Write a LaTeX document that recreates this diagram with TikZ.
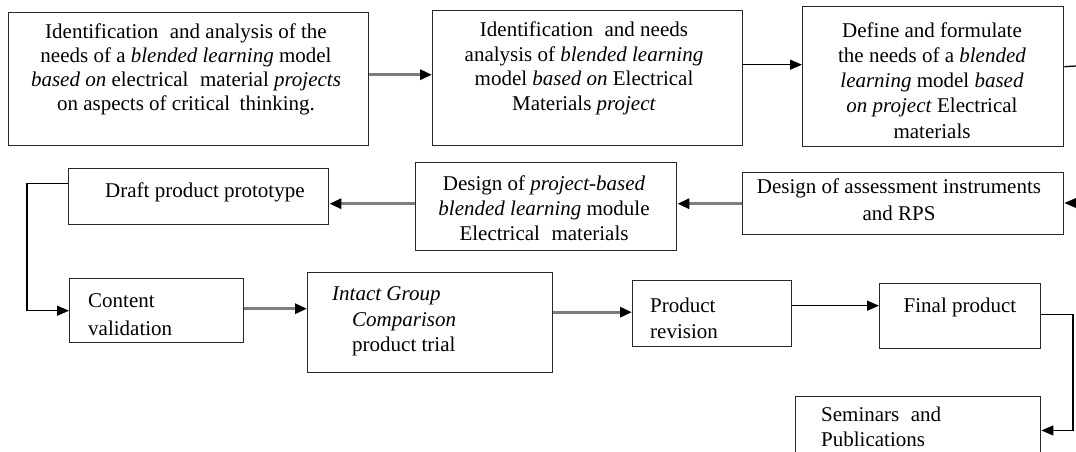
\documentclass[tikz,border=0pt]{standalone}
\usepackage{fontspec}
\setmainfont{Liberation Serif}
\usetikzlibrary{arrows.meta,calc}
\definecolor{shaft}{RGB}{125,125,125}
\definecolor{edge}{RGB}{40,40,40}
\tikzset{
  stepbox/.style={draw=edge, line width=1.4pt, inner sep=0pt},
  txt/.style={inner sep=0pt, font=\fontsize{21}{25}\selectfont},
  garrow/.style={draw=shaft, line width=3pt, -{Triangle[length=12pt,width=10pt,fill=black,color=black]}},
  barrow/.style={draw=black, line width=1.3pt, -{Triangle[length=12pt,width=10pt]}},
  bline/.style={draw=black, line width=1.3pt},
}
\newcommand{\boxat}[5]{\node[stepbox, anchor=north west, minimum width=#4-#2, minimum height=#5-#3] (#1) at (#2,#3) {};}
\begin{document}
\begin{tikzpicture}[x=1pt,y=-1pt]
\useasboundingbox (0,0) rectangle (1076,452);

% boxes
\boxat{b1}{8}{12}{368}{145}
\boxat{b2}{432}{10}{742}{145}
\boxat{b3}{802}{6}{1063}{146}
\boxat{b4}{742}{172}{1063}{234}
\boxat{b5}{415}{162}{676}{250}
\boxat{b6}{68}{168}{328}{224}
\boxat{b7}{69}{278}{243}{342}
\boxat{b8}{307}{272}{552}{372}
\boxat{b9}{632}{280}{791}{346}
\boxat{b10}{879}{283}{1040}{348}
\boxat{b11}{795}{396}{1040}{452.5}

% texts
\node[txt, align=center, font=\fontsize{21}{24}\selectfont] (t1) at (186,69.5)
  {Identification\hspace{0.3em} and analysis of the\\ needs of a \textit{blended learning} model\\ \textit{based on} electrical\hspace{0.3em} material \textit{projects}\\ on aspects of critical\hspace{0.2em} thinking.};
\node[txt, align=center, font=\fontsize{21}{24.5}\selectfont] (t2) at (584,68.5)
  {Identification\hspace{0.3em} and needs\\ analysis of \textit{blended learning}\\ model \textit{based on} Electrical\\ Materials \textit{project}};
\node[txt, align=center, font=\fontsize{21}{25.25}\selectfont] (t3) at (932,80.4)
  {Define and formulate\\ the needs of a \textit{blended}\\ \textit{learning} model \textit{based}\\ \textit{on project} Electrical\\ materials};
\node[txt, align=center, font=\fontsize{21}{26.5}\selectfont] (t4) at (899,199.6)
  {Design of assessment instruments\\ and RPS};
\node[txt, align=center, font=\fontsize{21}{25}\selectfont] (t5) at (544,207.9)
  {Design of \textit{project-based}\\ \textit{blended learning} module\\ Electrical\hspace{0.3em} materials};
\node[txt, anchor=base west] (t6) at (105,197) {Draft product prototype};
\node[txt, align=left, anchor=west, font=\fontsize{21}{28}\selectfont] (t7) at (88,315) {Content\\ validation};
\node[txt, align=left, anchor=west, font=\fontsize{21}{25.5}\selectfont] (t8) at (332,321.6)
  {\textit{Intact Group}\\ \hspace*{20pt}\textit{Comparison}\\ \hspace*{20pt}product trial};
\node[txt, align=left, anchor=west, font=\fontsize{21}{26}\selectfont] (t9) at (650,317.9) {Product\\ revision};
\node[txt, anchor=base] (t10) at (960,312) {Final product};
\node[txt, align=left, anchor=west, font=\fontsize{21}{25}\selectfont] (t11) at (821,427) {Seminars\hspace{0.3em} and\\ Publications};

% helper coordinates
\coordinate (rt1) at (1076,66);
\coordinate (rt2) at (1076,203);
\coordinate (lft) at (27,250);
\coordinate (rgt) at (1073,370);

% connectors
\draw[garrow] ([yshift=4.5pt]b1.east) -- ([yshift=4.5pt]b1.east -| b2.west);
\draw[barrow] ([yshift=13.5pt]b2.east) -- ([yshift=13.5pt]b2.east -| b3.west);
\draw[bline] ([yshift=10pt]b3.east) -- (rt1);
\draw[barrow] (rt2) -- (rt2 -| b4.east);
\draw[garrow] (b4.west) -- (b4.west -| b5.east);
\draw[garrow] ([yshift=3pt]b5.west) -- ([yshift=3pt]b5.west -| b6.east);
\draw[barrow] ([yshift=13pt]b6.west) -| (lft) |- (b7.west);
\draw[garrow] ([yshift=2pt]b7.east) -- ([yshift=2pt]b7.east -| b8.west);
\draw[garrow] ([yshift=10.5pt]b8.east) -- ([yshift=10.5pt]b8.east -| b9.west);
\draw[barrow] ([yshift=8pt]b9.east) -- ([yshift=8pt]b9.east -| b10.west);
\draw[barrow] ([yshift=1.5pt]b10.east) -| (rgt) |- ([yshift=-5.5pt]b11.east);
\end{tikzpicture}
\end{document}
